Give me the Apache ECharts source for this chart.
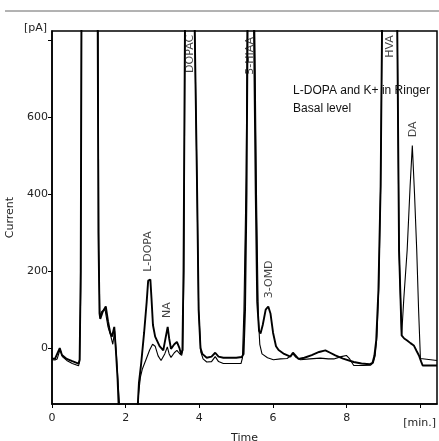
<!DOCTYPE html>
<html>
<head>
<meta charset="utf-8">
<script src="https://cdn.jsdelivr.net/npm/echarts@6/dist/echarts.min.js"></script>
<style>
html,body{margin:0;padding:0;background:#fff;}
#chart{width:439px;height:441px;}
</style>
</head>
<body>
<div id="chart"></div>
<script>
// ---- data (time [min], current [pA]); values beyond the plot range are clipped by the axes ----
const seriesNames = ['L-DOPA and K+ in Ringer', 'Basal level'];

const ldopaData = [
  [0.00,-27],[0.08,-28],[0.13,-25],[0.21,0],[0.27,-18],[0.40,-28],[0.55,-34],[0.72,-40],[0.75,-30],[0.78,200],[0.80,850],
  [1.24,850],[1.26,300],[1.29,90],[1.31,76],[1.38,95],[1.46,108],[1.52,70],[1.58,40],[1.63,30],[1.69,55],[1.73,0],[1.78,-80],[1.83,-200],
  [2.30,-200],[2.36,-90],[2.42,-40],[2.50,40],[2.57,120],[2.61,175],[2.67,178],[2.70,130],[2.74,60],[2.80,30],[2.92,5],[3.02,-6],[3.10,35],[3.14,55],[3.18,25],[3.23,-2],[3.32,10],[3.39,16],[3.46,0],[3.50,-15],[3.54,-5],[3.57,200],[3.61,850],
  [3.87,850],[3.94,400],[3.98,100],[4.03,0],[4.08,-15],[4.20,-25],[4.33,-22],[4.43,-12],[4.52,-22],[4.65,-25],[5.00,-25],[5.15,-23],[5.20,-15],[5.24,100],[5.28,400],[5.31,850],
  [5.48,850],[5.53,400],[5.57,120],[5.62,45],[5.66,38],[5.72,60],[5.80,100],[5.87,108],[5.93,90],[6.00,40],[6.08,5],[6.15,-5],[6.30,-15],[6.47,-22],[6.54,-12],[6.60,-18],[6.69,-28],[6.85,-25],[7.05,-18],[7.25,-10],[7.42,-6],[7.55,-12],[7.69,-19],[7.90,-27],[8.19,-36],[8.40,-40],[8.62,-42],[8.70,-38],[8.75,-20],[8.80,20],[8.86,150],[8.92,420],[8.96,850],
  [9.37,850],[9.42,254],[9.49,33],[9.56,25],[9.64,20],[9.73,13],[9.82,7],[9.90,-8],[9.96,-19],[10.02,-35],[10.06,-45],[10.45,-45]
];

const basalData = [
  [0.00,-30],[0.08,-31],[0.14,-28],[0.22,-3],[0.28,-22],[0.40,-32],[0.55,-40],[0.72,-46],[0.75,-35],[0.78,150],[0.80,850],
  [1.25,850],[1.27,250],[1.30,80],[1.35,95],[1.44,100],[1.52,55],[1.60,30],[1.65,10],[1.70,45],[1.75,-20],[1.80,-100],[1.87,-200],
  [2.31,-200],[2.35,-118],[2.40,-75],[2.45,-55],[2.55,-30],[2.65,-5],[2.73,10],[2.80,5],[2.88,-20],[2.96,-32],[3.06,-15],[3.13,3],[3.18,-15],[3.23,-24],[3.32,-12],[3.39,-6],[3.46,-14],[3.52,-19],[3.55,-5],[3.58,200],[3.61,850],
  [3.87,850],[3.94,400],[3.98,100],[4.04,-10],[4.10,-28],[4.20,-36],[4.33,-35],[4.43,-22],[4.52,-35],[4.65,-40],[5.00,-40],[5.13,-40],[5.17,-25],[5.21,100],[5.27,450],[5.30,850],
  [5.50,850],[5.55,400],[5.60,80],[5.64,10],[5.70,-15],[5.85,-25],[6.01,-30],[6.20,-28],[6.38,-27],[6.48,-20],[6.54,-15],[6.62,-24],[6.74,-30],[7.00,-28],[7.28,-26],[7.50,-28],[7.65,-28],[7.85,-22],[7.99,-19],[8.08,-28],[8.19,-45],[8.45,-45],[8.65,-44],[8.72,-38],[8.77,-20],[8.82,30],[8.87,160],[8.92,420],[8.96,850],
  [9.37,850],[9.42,254],[9.49,33],[9.55,130],[9.64,254],[9.72,420],[9.78,526],[9.84,400],[9.90,254],[9.95,100],[10.00,-27],[10.05,-32],[10.45,-32]
];

// peak annotations: name, retention time, level (bottom of the vertical label)
const peakNames  = ['L-DOPA', 'NA', 'DOPAC', '5-HIAA', '3-OMD', 'HVA', 'DA'];
const peakTimes  = [2.63, 3.15, 3.75, 5.40, 5.90, 9.19, 9.81];
const peakLevels = [197, 77, 713, 708, 128, 752, 546];

// axes
const xMin = 0, xMax = 10.45;
const yMin = -145, yMax = 823;
const xTickValues = [0, 2, 4, 6, 8, 10];
const xLabelValues = [0, 2, 4, 6, 8];
const yTickValues = [0, 200, 400, 600, 800];
const yLabelValues = [0, 200, 400, 600];

const axisFont = 'DejaVu Sans';
const chart = echarts.init(document.getElementById('chart'), null, {renderer: 'canvas'});

chart.setOption({
  animation: false,
  backgroundColor: '#fff',
  grid: {left: 52, right: 2, top: 31, bottom: 37, outerBoundsMode: 'none', containLabel: false,
         show: true, borderColor: '#000', borderWidth: 1.5, backgroundColor: '#fff'},
  legend: {
    data: seriesNames,
    orient: 'vertical',
    left: 277, top: 80,
    itemWidth: 1, itemHeight: 14, itemGap: 6,
    itemStyle: {opacity: 0}, lineStyle: {opacity: 0},
    textStyle: {fontFamily: 'Liberation Sans', fontSize: 12, color: '#111'},
    selectedMode: false
  },
  graphic: [
    {type: 'line', shape: {x1: 5, y1: 11, x2: 439, y2: 11}, style: {stroke: '#666', lineWidth: 1}},
    {type: 'text', x: 436, y: 423, style: {text: '[min.]', font: '11px "DejaVu Sans"', fill: '#222', align: 'right', verticalAlign: 'middle'}},
    {type: 'text', x: 47, y: 28, style: {text: '[pA]', font: '11px "DejaVu Sans"', fill: '#222', align: 'right', verticalAlign: 'middle'}}
  ],
  xAxis: {
    type: 'value', min: xMin, max: xMax,
    name: 'Time', nameLocation: 'middle', nameGap: 29,
    nameTextStyle: {fontFamily: axisFont, fontSize: 11, color: '#222'},
    axisLine: {show: true, onZero: false, lineStyle: {color: '#000', width: 1.5}},
    axisTick: {show: true, length: 4, customValues: xTickValues, lineStyle: {color: '#000', width: 1}},
    axisLabel: {customValues: xLabelValues, margin: 9, fontFamily: axisFont, fontSize: 11, color: '#222'},
    splitLine: {show: false}
  },
  yAxis: {
    type: 'value', min: yMin, max: yMax,
    name: 'Current', nameLocation: 'middle', nameGap: 32,
    nameTextStyle: {fontFamily: axisFont, fontSize: 11, color: '#222'},
    axisLine: {show: true, onZero: false, lineStyle: {color: '#000', width: 1.5}},
    axisTick: {show: true, length: 4, customValues: yTickValues, lineStyle: {color: '#000', width: 1}},
    axisLabel: {customValues: yLabelValues, margin: 4, fontFamily: axisFont, fontSize: 11, color: '#222', padding: [0, 0, 5, 0]},
    splitLine: {show: false}
  },
  series: [
    {
      name: seriesNames[0], type: 'line', data: ldopaData, showSymbol: false, symbol: 'none',
      clip: true, lineStyle: {color: '#000', width: 1.9}, itemStyle: {color: '#000'}, z: 3
    },
    {
      name: seriesNames[1], type: 'line', data: basalData, showSymbol: false, symbol: 'none',
      clip: true, lineStyle: {color: '#000', width: 1.1}, itemStyle: {color: '#000'}, z: 2
    },
    {
      name: 'peaks', type: 'scatter', silent: true, symbolSize: 1,
      itemStyle: {color: 'rgba(0,0,0,0)'},
      data: peakNames.map((n, i) => ({name: n, value: [peakTimes[i], peakLevels[i]]})),
      label: {
        show: true, formatter: p => p.name, rotate: 90, position: [0, 0],
        align: 'left', verticalAlign: 'middle',
        fontFamily: axisFont, fontSize: 11, color: '#111'
      },
      z: 5
    }
  ]
});
</script>
</body>
</html>
